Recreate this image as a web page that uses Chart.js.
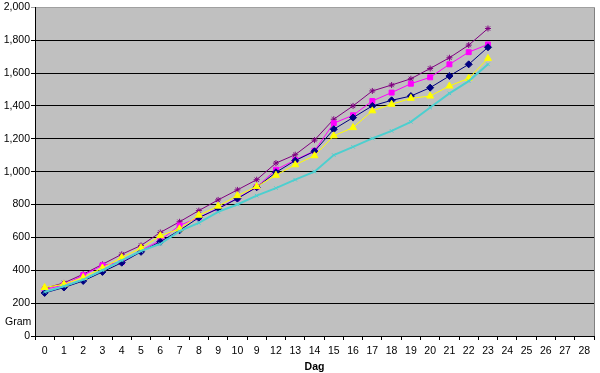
<!DOCTYPE html>
<html>
<head>
<meta charset="utf-8">
<script src="https://cdn.jsdelivr.net/npm/chart.js@4"></script>
<style>
  html, body { margin: 0; padding: 0; background: #ffffff; }
  #wrap { width: 600px; height: 373px; }
</style>
</head>
<body>
<div id="wrap"><canvas id="myChart" width="600" height="373"></canvas></div>
<script>
// Tick labels along the x axis (day numbers, as printed in the original - note the "9" at position 11)
var dagLabels = ["0","1","2","3","4","5","6","7","8","9","10","9","12","13","14","15","16","17","18","19","20","21","22","23","24","25","26","27","28"];

// Weight in grams per day, one array per series
var serie1 = [262, 295, 335, 390, 446, 512, 574, 643, 720, 775, 836, 905, 996, 1067, 1124, 1258, 1329, 1400, 1434, 1460, 1511, 1582, 1653, 1757];
var serie2 = [283, 310, 370, 430, 450, 521, 582, 673, 721, 776, 838, 906, 1012, 1071, 1127, 1295, 1343, 1430, 1481, 1535, 1574, 1653, 1727, 1774];
var serie3 = [295, 315, 356, 414, 477, 535, 610, 652, 735, 790, 854, 909, 978, 1042, 1097, 1218, 1268, 1370, 1410, 1446, 1460, 1521, 1568, 1689];
var serie4 = [268, 303, 343, 400, 460, 517, 560, 638, 688, 755, 800, 854, 900, 951, 1000, 1101, 1151, 1202, 1248, 1303, 1390, 1476, 1551, 1653];
var serie5 = [290, 323, 376, 436, 497, 551, 630, 695, 763, 828, 889, 951, 1052, 1103, 1192, 1319, 1400, 1491, 1527, 1565, 1628, 1693, 1770, 1871];

// Y axis range
var yMin = 0, yMax = 2000, yStep = 200;

// Gray plot area + right border + the "Gram" label
var plotBackground = {
    id: 'plotBackground',
    beforeDraw: function(chart) {
        var ctx = chart.ctx, a = chart.chartArea;
        ctx.save();
        ctx.fillStyle = '#c0c0c0';
        ctx.fillRect(a.left, a.top, a.right - a.left, a.bottom - a.top);
        ctx.strokeStyle = '#808080';
        ctx.lineWidth = 1;
        ctx.beginPath();
        ctx.moveTo(Math.round(a.right) + 0.5, a.top);
        ctx.lineTo(Math.round(a.right) + 0.5, a.bottom);
        ctx.stroke();
        ctx.restore();
    },
    afterDraw: function(chart) {
        var ctx = chart.ctx;
        ctx.save();
        ctx.fillStyle = '#000000';
        ctx.font = '10.5px "Liberation Sans", Arial, sans-serif';
        ctx.textBaseline = 'middle';
        ctx.textAlign = 'left';
        ctx.fillText('Gram', 5, 322);
        ctx.restore();
    }
};

function makeSet(label, values, color, style, radius, width) {
    return {
        label: label,
        data: values,
        borderColor: color,
        backgroundColor: color,
        borderWidth: width,
        pointStyle: style,
        pointRadius: radius,
        pointBorderWidth: 1,
        pointBorderColor: color,
        pointBackgroundColor: color,
        tension: 0
    };
}

var ctx = document.getElementById('myChart').getContext('2d');
var config = {
    type: 'line',
    data: {
        labels: dagLabels,
        datasets: [
            makeSet('Serie 4', serie4, '#4dcfcf', 'crossRot', 2.5, 2),
            makeSet('Serie 3', serie3, '#ffff00', 'triangle', 4, 1),
            makeSet('Serie 1', serie1, '#000080', 'rectRot', 3.5, 1),
            makeSet('Serie 2', serie2, '#ff00ff', 'rect', 3.5, 1),
            makeSet('Serie 5', serie5, '#800080', 'star', 3, 1)
        ]
    },
    options: {
        responsive: false,
        animation: false,
        layout: { padding: { left: 0, right: 6, top: 6, bottom: 0 } },
        plugins: {
            legend: { display: false },
            tooltip: { enabled: false }
        },
        scales: {
            x: {
                type: 'category',
                offset: true,
                grid: {
                    offset: true,
                    drawOnChartArea: false,
                    drawTicks: true,
                    tickLength: 4,
                    color: '#000000'
                },
                border: { display: true, color: '#000000', width: 1 },
                ticks: {
                    autoSkip: false,
                    maxRotation: 0,
                    padding: 5,
                    color: '#000000',
                    font: { family: '"Liberation Sans", Arial, sans-serif', size: 10.5 }
                },
                title: {
                    display: true,
                    text: 'Dag',
                    color: '#000000',
                    padding: { top: 0, bottom: 0 },
                    font: { family: '"Liberation Sans", Arial, sans-serif', size: 10.5, weight: 'bold' }
                },
                afterFit: function(scale) { scale.height = 37; }
            },
            y: {
                min: yMin,
                max: yMax,
                grid: {
                    color: function(c) { return c.tick && c.tick.value === yMax ? '#a0a0a0' : '#000000'; },
                    tickLength: 4,
                    lineWidth: 1
                },
                border: { display: true, color: '#000000', width: 1 },
                ticks: {
                    stepSize: yStep,
                    padding: 1,
                    color: '#000000',
                    font: { family: '"Liberation Sans", Arial, sans-serif', size: 10.5 },
                    callback: function(v) { return v.toLocaleString('en-US'); }
                },
                afterFit: function(scale) { scale.width = 35; }
            }
        }
    },
    plugins: [plotBackground]
};
var chart = new Chart(ctx, config);
</script>
</body>
</html>
